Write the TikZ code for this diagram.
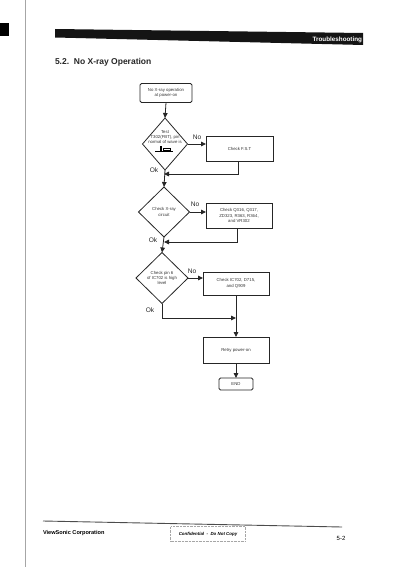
\documentclass[tikz,border=0pt]{standalone}
\usepackage{fontspec}
\setmainfont{Liberation Sans}
\usetikzlibrary{shapes.geometric,arrows.meta,calc}
\begin{document}
\begin{tikzpicture}[x=1pt,y=-1pt,
  every node/.style={inner sep=0pt,outer sep=0pt},
  flow/.style={line width=0.8pt,black!85},
  arr/.style={flow,-{Triangle[length=5pt,width=4.6pt]}},
  small/.style={font=\fontsize{4.3}{5.4}\selectfont,align=center,text=black!80},
  lab/.style={font=\fontsize{6.6}{7}\selectfont,text=black!85},
  box/.style={draw=black!85,line width=0.8pt,small},
  rbox/.style={box,rounded corners=1.5pt},
  dia/.style={draw=black!85,line width=0.8pt,diamond}
]
\useasboundingbox (0,0) rectangle (400,567);
% page decorations
\draw[gray!70,line width=0.8pt] (25,0) -- (25,567);
\fill[black] (0,23) rectangle (9,36);
\fill[black!92] (55,29) -- (363,33) -- (363,45) -- (55,37.5) -- cycle;
\node[text=white,font=\bfseries\fontsize{6.3}{7}\selectfont,anchor=east] (hdr) at (362,40) {Troubleshooting};
\node[font=\bfseries\fontsize{8.5}{9}\selectfont,anchor=west,text=black!85] (title) at (55,62.5) {5.2.\ \ No X-ray Operation};

% flowchart nodes
\node[rbox,minimum width=52pt,minimum height=19pt] (start) at (166,93) {No X-ray operation\\at power-on};
\node[dia,minimum width=45pt,minimum height=52pt] (d1) at (165,144) {};
\node[small] (d1t) at (165,137) {Test\\T302(FBT), pin\\normal of wave is};
\draw[line width=0.4pt] (155,151.5) -- (160,151.5) -- (160,146) -- (161.5,146) -- (161.5,151.5) -- (173,151.5);
\draw[line width=0.3pt] (163,148) rectangle (170,150);
\node[box,minimum width=67pt,minimum height=25pt] (fst) at (239.5,148.5) {Check F.S.T};

\node[dia,minimum width=51pt,minimum height=50pt] (d2) at (164,212) {};
\node[small] (d2t) at (164,212) {Check X-ray\\circuit};
\node[box,minimum width=66pt,minimum height=25pt] (b2) at (239,215.5) {Check Q316, Q317,\\ZD323, R363, R364,\\and VR302};

\node[dia,minimum width=52pt,minimum height=51pt] (d3) at (162,278) {};
\node[small] (d3t) at (162,278) {Check pin 6\\of IC702 is high\\level};
\node[box,minimum width=66pt,minimum height=23pt] (b3) at (236,283.5) {Check IC702, D715,\\and Q909};

\node[box,minimum width=66pt,minimum height=26pt] (retry) at (236,350) {Retry power-on};
\node[rbox,minimum width=34pt,minimum height=12pt] (end) at (236,384) {END};

% connectors
\draw[arr] (start.south) -- (d1.north);
\draw[arr] (d1.east) -- (d1.east -| fst.west);
\node[lab] (no1) at (197,137) {No};
\coordinate (j1) at (164,174);
\draw[arr] (fst.south -| 238,0) |- (j1);
\node[lab] (ok1) at (154,170.5) {Ok};
\draw[arr] (d1.south) -- (d2.north);

\draw[arr] (d2.east) -- (d2.east -| b2.west);
\node[lab] (no2) at (195,204) {No};
\coordinate (j2) at (164,242);
\draw[arr] (b2.south -| 237,0) |- (j2);
\node[lab] (ok2) at (153,240.5) {Ok};
\draw[arr] (d2.south) -- (d3.north);

\draw[arr] (d3.east) -- (b3.west |- d3.east);
\node[lab] (no3) at (192,271) {No};
\coordinate (j3) at (236,318);
\draw[arr] (d3.south) |- (j3);
\node[lab] (ok3) at (150,310) {Ok};
\draw[arr] (b3.south) -- (retry.north);
\draw[arr] (retry.south) -- (end.north);

% footer
\draw[gray!60!black,line width=0.9pt] (43,521) -- (342,527);
\node[font=\bfseries\fontsize{5.6}{6}\selectfont,anchor=west] (vs) at (43,533.5) {ViewSonic Corporation};
\node[draw=gray!70,densely dotted,line width=0.4pt,minimum width=75pt,minimum height=15pt,font=\bfseries\itshape\fontsize{4.4}{5}\selectfont] (conf) at (208,534) {Confidential\ \ -\ \ Do Not Copy};
\node[font=\fontsize{6}{7}\selectfont] (pg) at (341,538) {5-2};
\end{tikzpicture}
\end{document}
